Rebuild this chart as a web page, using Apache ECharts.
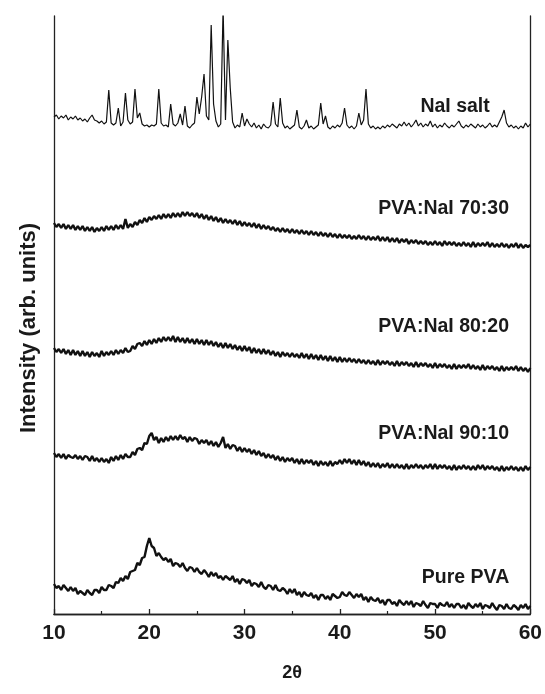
<!DOCTYPE html>
<html>
<head>
<meta charset="utf-8">
<script src="https://cdn.jsdelivr.net/npm/echarts@6/dist/echarts.min.js"></script>
<style>
  html, body { margin: 0; padding: 0; background: #fff; }
  #chart { width: 545px; height: 694px; }
</style>
</head>
<body>
<div id="chart"></div>
<script>
// XRD patterns (2θ scan, 0.25° step), stacked with vertical offsets
const twoTheta = [10,10.25,10.5,10.75,11,11.25,11.5,11.75,12,12.25,12.5,12.75,13,13.25,13.5,13.75,14,14.25,14.5,14.75,15,15.25,15.5,15.75,16,16.25,16.5,16.75,17,17.25,17.5,17.75,18,18.25,18.5,18.75,19,19.25,19.5,19.75,20,20.25,20.5,20.75,21,21.25,21.5,21.75,22,22.25,22.5,22.75,23,23.25,23.5,23.75,24,24.25,24.5,24.75,25,25.25,25.5,25.75,26,26.25,26.5,26.75,27,27.25,27.5,27.75,28,28.25,28.5,28.75,29,29.25,29.5,29.75,30,30.25,30.5,30.75,31,31.25,31.5,31.75,32,32.25,32.5,32.75,33,33.25,33.5,33.75,34,34.25,34.5,34.75,35,35.25,35.5,35.75,36,36.25,36.5,36.75,37,37.25,37.5,37.75,38,38.25,38.5,38.75,39,39.25,39.5,39.75,40,40.25,40.5,40.75,41,41.25,41.5,41.75,42,42.25,42.5,42.75,43,43.25,43.5,43.75,44,44.25,44.5,44.75,45,45.25,45.5,45.75,46,46.25,46.5,46.75,47,47.25,47.5,47.75,48,48.25,48.5,48.75,49,49.25,49.5,49.75,50,50.25,50.5,50.75,51,51.25,51.5,51.75,52,52.25,52.5,52.75,53,53.25,53.5,53.75,54,54.25,54.5,54.75,55,55.25,55.5,55.75,56,56.25,56.5,56.75,57,57.25,57.5,57.75,58,58.25,58.5,58.75,59,59.25,59.5,59.75,60];

const naiSalt = [509,511,507,510,508,511,506,509,507,510,506,508,505,507,504,508,511,506,505,503,505,502,504,536,503,501,503,518,500,504,533,506,502,504,537,508,513,502,500,501,499,501,500,502,537,503,500,501,499,522,502,500,503,512,501,520,500,498,501,503,529,512,529,552,510,506,601,522,505,499,502,618,506,586,538,504,498,501,499,513,500,507,502,499,503,498,501,497,502,499,498,501,524,502,499,528,503,498,500,497,499,501,516,499,497,500,506,498,500,497,499,501,523,502,510,499,497,500,498,501,499,503,518,501,498,500,497,500,513,501,506,537,502,498,500,497,499,497,500,498,501,499,502,500,498,502,500,504,500,503,499,502,506,500,503,499,502,500,505,499,502,498,501,499,503,500,498,501,499,502,505,500,498,501,499,502,500,498,502,499,501,498,500,503,499,501,499,504,509,516,503,499,501,498,500,497,500,498,503,499,502];

const pva7030 = [400,396,399,395,399,394,398,394,398,393,397,393,397,392,396,392,396,391,395,392,396,392,397,393,397,393,398,394,398,394,404,395,399,396,401,398,403,400,405,401,406,403,407,404,408,404,409,405,409,405,410,406,410,406,411,407,411,407,410,406,410,405,409,404,408,403,407,402,406,401,405,400,404,400,403,399,403,398,402,397,401,397,400,396,400,395,399,394,398,394,397,393,396,392,395,391,395,391,394,390,394,390,393,389,393,389,392,388,392,388,391,387,391,387,390,386,390,386,389,385,389,385,388,385,388,384,387,384,388,384,387,383,387,383,386,383,387,382,386,382,386,381,385,381,385,380,384,381,384,379,383,380,383,379,382,379,382,378,381,378,382,378,381,377,382,378,381,378,381,377,380,377,381,377,380,376,381,376,380,377,380,377,381,376,380,376,379,376,380,376,379,375,379,376,380,375,379,375,378,376,378];

const pva8020 = [284,280,283,279,283,278,282,277,282,277,281,276,281,276,280,275,280,276,279,275,281,276,280,277,281,277,282,278,282,279,284,280,281,286,283,288,289,286,291,287,292,288,293,289,294,290,295,291,295,291,296,290,295,290,294,289,294,289,293,288,293,288,292,287,292,287,291,286,290,285,289,284,289,284,288,283,287,282,286,281,286,281,285,279,284,279,283,278,283,278,282,277,281,276,280,275,280,276,279,275,279,275,278,274,279,274,278,273,278,273,277,272,277,272,276,271,276,271,275,270,275,270,274,270,274,270,273,269,273,269,272,268,272,268,271,267,272,267,271,268,271,267,270,266,271,266,270,267,270,266,269,265,270,265,269,266,269,265,268,264,269,264,268,265,268,264,267,263,268,263,267,264,267,264,268,263,267,263,266,262,267,262,266,263,266,262,265,261,266,261,265,262,265,262,266,261,265,261,264,260,264];

const pva9010 = [175,171,174,170,174,169,173,171,170,173,169,172,168,172,171,167,172,167,170,166,170,166,169,165,171,167,172,168,173,169,174,171,171,176,173,179,180,178,185,184,192,195,188,191,185,190,186,191,187,192,188,192,188,193,189,191,186,191,187,190,189,184,188,185,188,183,187,182,186,181,185,191,180,184,179,183,182,177,181,176,180,176,179,174,178,173,177,172,175,170,174,170,173,168,172,167,171,166,170,167,170,165,169,164,169,164,168,165,168,163,167,162,167,163,166,162,167,162,166,164,168,164,169,165,169,164,168,163,168,163,167,162,166,161,165,161,165,160,164,161,165,160,164,160,164,160,163,159,164,159,163,160,164,160,163,159,163,160,164,159,164,159,163,160,163,159,162,158,163,158,162,159,163,159,162,158,162,158,163,159,163,158,162,159,162,158,161,157,162,157,161,158,162,158,161,157,161,157,162,158,161];

const purePVA = [42,38,40,36,41,38,35,39,35,38,32,35,33,31,36,33,31,36,36,33,39,36,36,41,40,38,44,43,48,45,50,47,54,55,56,63,61,68,69,80,88,80,78,70,73,69,66,68,64,67,60,63,62,59,63,58,55,59,58,54,58,54,52,56,53,49,54,50,53,48,50,46,50,48,46,50,44,47,42,47,46,43,46,40,43,42,39,44,39,37,41,40,36,41,36,35,38,36,32,37,33,37,31,34,29,34,31,30,33,28,31,26,31,31,27,30,26,32,30,28,29,34,31,30,34,31,28,32,29,32,26,29,24,29,26,25,28,23,26,21,26,26,22,24,20,26,23,21,25,21,25,19,23,22,20,25,21,18,23,22,22,18,23,21,20,24,19,22,18,22,22,18,21,17,23,20,18,22,19,23,17,21,20,18,23,19,16,21,20,17,22,18,17,21,19,16,21,18,22,17,20];

const traceNames = ['NaI salt', 'PVA:NaI 70:30', 'PVA:NaI 80:20', 'PVA:NaI 90:10', 'Pure PVA'];
const traceData = [naiSalt, pva7030, pva8020, pva9010, purePVA];
// vertical offset added to each pattern in the stack
const traceOffset = [-12, -9, -18, -14, -12];
// where each trace's caption sits, in [2θ, intensity] units
const captionAt = [[52.1, 507], [50.9, 405], [50.9, 287], [50.9, 180], [53.2, 36]];
const xTicks = [10, 20, 30, 40, 50, 60];
const yTop = 598;

const FONT = '"Liberation Sans", Arial, Helvetica, sans-serif';
const INK = '#111';

const chart = echarts.init(document.getElementById('chart'), null, { renderer: 'canvas' });

const series = traceData.map((vals, k) => ({
  type: 'line',
  name: traceNames[k],
  data: twoTheta.map((t, i) => [t, vals[i] + traceOffset[k]]),
  showSymbol: false,
  symbol: 'none',
  clip: true,
  lineStyle: { color: INK, width: k === 0 ? 1.2 : 2.4, join: 'bevel' },
  z: 3,
  markPoint: {
    symbol: 'rect',
    symbolSize: 1,
    itemStyle: { color: 'transparent' },
    silent: true,
    label: {
      show: true,
      position: 'inside',
      formatter: traceNames[k],
      color: '#1a1a1a',
      fontFamily: FONT,
      fontWeight: 'bold',
      fontSize: 19.5
    },
    data: [{ coord: captionAt[k] }]
  }
}));

chart.setOption({
  animation: false,
  backgroundColor: '#fff',
  grid: { left: 54, right: 14, top: 16, bottom: 80, containLabel: false },
  xAxis: [
    {
      type: 'value',
      min: xTicks[0],
      max: xTicks[xTicks.length - 1],
      interval: 10,
      position: 'bottom',
      axisLine: { show: true, lineStyle: { color: '#222', width: 1.3 } },
      axisTick: { show: true, inside: true, length: 5, lineStyle: { color: '#222', width: 1.3 } },
      minorTick: { show: true, splitNumber: 2, length: 3, lineStyle: { color: '#222', width: 1.2 } },
      splitLine: { show: false },
      axisLabel: {
        color: '#1a1a1a',
        fontFamily: FONT,
        fontWeight: 'bold',
        fontSize: 21,
        margin: 9
      },
      name: '2θ',
      nameLocation: 'middle',
      nameGap: 50,
      nameTextStyle: { color: '#1a1a1a', fontFamily: FONT, fontWeight: 'bold', fontSize: 18 }
    },
    {
      type: 'value',
      min: xTicks[0],
      max: xTicks[xTicks.length - 1],
      position: 'top',
      axisLine: { show: true, lineStyle: { color: '#222', width: 1.3 } },
      axisTick: { show: false },
      axisLabel: { show: false },
      splitLine: { show: false }
    }
  ],
  yAxis: [
    {
      type: 'value',
      min: 0,
      max: yTop,
      position: 'left',
      axisLine: { show: true, lineStyle: { color: '#222', width: 1.3 } },
      axisTick: { show: false },
      axisLabel: { show: false },
      splitLine: { show: false },
      name: 'Intensity (arb. units)',
      nameLocation: 'middle',
      nameGap: 14,
      nameRotate: 90,
      nameTextStyle: {
        color: '#1a1a1a', fontFamily: FONT, fontWeight: 'bold', fontSize: 22,
        padding: [0, 26, 0, 0]
      }
    },
    {
      type: 'value',
      min: 0,
      max: yTop,
      position: 'right',
      axisLine: { show: true, lineStyle: { color: '#222', width: 1.3 } },
      axisTick: { show: false },
      axisLabel: { show: false },
      splitLine: { show: false }
    }
  ],
  series: series
});
</script>
</body>
</html>
